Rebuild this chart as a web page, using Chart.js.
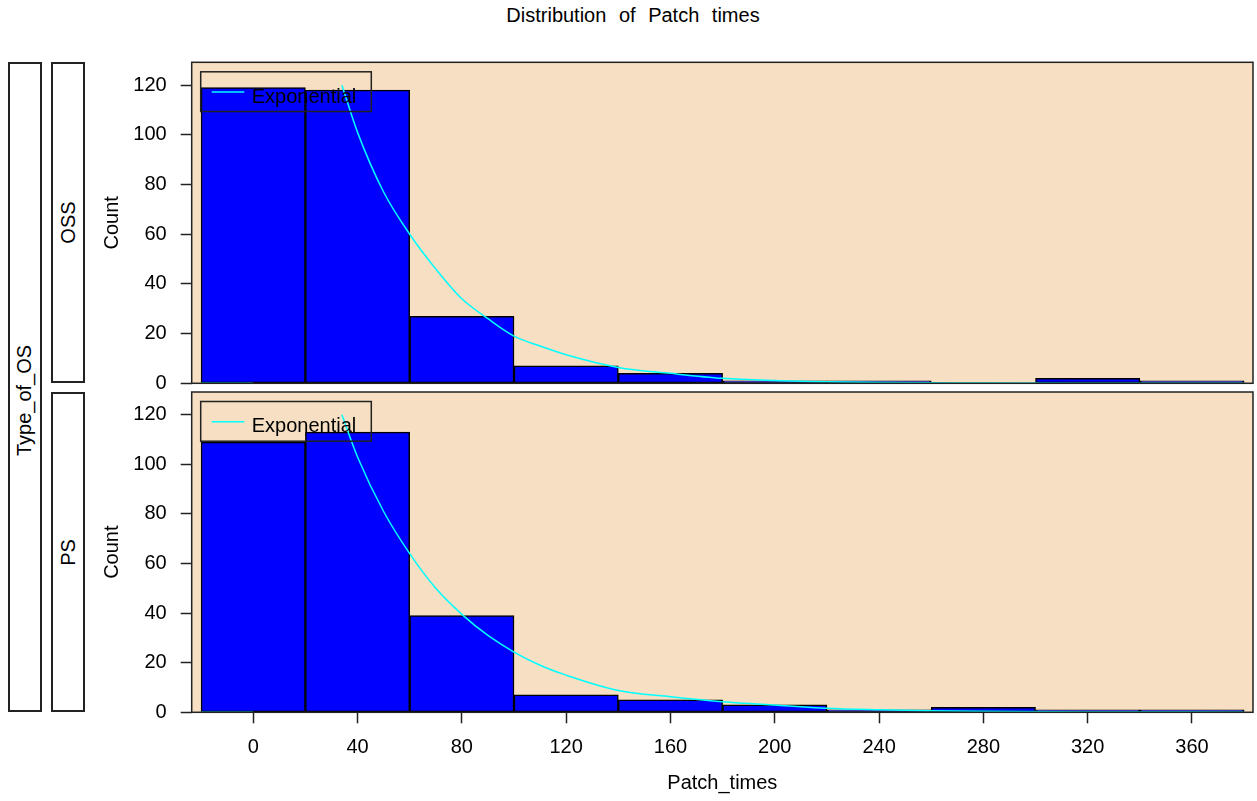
<!DOCTYPE html>
<html>
<head>
<meta charset="utf-8">
<script src="https://cdn.jsdelivr.net/npm/chart.js@4.4.1/dist/chart.umd.min.js"></script>
<style>
  body { margin: 0; background: #fff; width: 1257px; height: 801px; position: relative; overflow: hidden;
         font-family: "Liberation Sans", Arial, sans-serif; color: #000; }
  #title { position: absolute; left: 0; top: 4px; width: 1266px; text-align: center; font-size: 20px; word-spacing: 7px; }
  .strip { position: absolute; border: 2px solid #222; box-sizing: border-box;
           display: flex; align-items: center; justify-content: center; }
  .strip span { transform: rotate(-90deg); white-space: nowrap; font-size: 20px; }
  canvas { position: absolute; left: 0; }
</style>
</head>
<body>
<div id="title">Distribution of Patch times</div>
<div class="strip" style="left:8px;top:62px;width:34px;height:650px;padding-top:26px"><span>Type_of_OS</span></div>
<div class="strip" style="left:51px;top:62px;width:34px;height:321px"><span>OSS</span></div>
<div class="strip" style="left:51px;top:392px;width:34px;height:320px"><span>PS</span></div>
<canvas id="ossChart" width="1257" height="390" style="top:0"></canvas>
<canvas id="psChart" width="1257" height="411" style="top:390px"></canvas>
<script>
// ===============================
// DATA
// ===============================
const binMids = [0, 40, 80, 120, 160, 200, 240, 280, 320, 360];
const ossCounts = [119, 118, 27, 7, 4, 1, 1, 0, 2, 1];
const psCounts = [109, 113, 39, 7, 5, 3, 1, 2, 1, 1];

// fitted exponential curve, null = gap before the threshold
const curveX = [-20, 0, 17, 34, 40, 50, 60, 70, 80, 90, 100, 110, 120, 140, 160, 180, 200, 220, 240, 260, 280, 320, 380];
const ossCurve = [0, 0, null, 120, 101, 77, 60, 46, 34, 26, 19, 15, 11.5, 6.4, 4, 2, 1.1, 0.6, 0.3, 0.2, 0.1, 0.05, 0];
const psCurve = [0, 0, null, 120, 103, 81, 64, 50, 39.5, 31, 24.3, 19, 15, 8.8, 6.3, 4.3, 2.9, 1.6, 1, 0.6, 0.4, 0.15, 0.05];

const xTicks = [0, 40, 80, 120, 160, 200, 240, 280, 320, 360];
const yTicks = [0, 20, 40, 60, 80, 100, 120];

const FONT = '"Liberation Sans", Arial, sans-serif';
const BG = '#F6DFC2';

// plot background + frame
const framePlugin = {
    id: 'frame',
    beforeDraw(chart) {
        const { ctx, chartArea: a } = chart;
        ctx.save();
        ctx.fillStyle = BG;
        ctx.fillRect(a.left, a.top, a.right - a.left, a.bottom - a.top);
        ctx.restore();
    },
    afterDraw(chart) {
        const { ctx, chartArea: a } = chart;
        ctx.save();
        ctx.strokeStyle = '#222';
        ctx.lineWidth = 1.5;
        ctx.strokeRect(a.left, a.top, a.right - a.left, a.bottom - a.top);
        ctx.restore();
    }
};

// legend drawn as a box inside the plot, top-left
const boxLegend = {
    id: 'boxLegend',
    afterDatasetsDraw(chart) {
        const { ctx, chartArea: a } = chart;
        const ds = chart.data.datasets[1];
        const x = a.left + 9, y = a.top + 9.5;
        ctx.save();
        ctx.strokeStyle = '#222';
        ctx.lineWidth = 1.5;
        ctx.strokeRect(x, y, 170.6, 39.7);
        ctx.strokeStyle = ds.borderColor;
        ctx.beginPath();
        ctx.moveTo(x + 11, y + 20.3);
        ctx.lineTo(x + 43.6, y + 20.3);
        ctx.stroke();
        ctx.fillStyle = '#000';
        ctx.font = '20px ' + FONT;
        ctx.textBaseline = 'alphabetic';
        ctx.fillText(ds.label, x + 51, y + 30.7);
        ctx.restore();
    }
};

function noPad(s) {
    s.paddingTop = 0;
    s.paddingBottom = 0;
    s.paddingLeft = 0;
    s.paddingRight = 0;
}

function makePanel(id, counts, curve, showX) {
    const ctx = document.getElementById(id).getContext('2d');
    return new Chart(ctx, {
        type: 'bar',
        data: {
            datasets: [
                {
                    label: 'Count',
                    data: binMids.map((m, i) => ({ x: m, y: counts[i] })),
                    backgroundColor: '#0000FF',
                    borderColor: '#000',
                    borderWidth: 1.5,
                    borderSkipped: false,
                    barPercentage: 1,
                    categoryPercentage: 1,
                    order: 1
                },
                {
                    type: 'line',
                    label: 'Exponential',
                    data: curveX.map((v, i) => ({ x: v, y: curve[i] })),
                    borderColor: '#00FFFF',
                    borderWidth: 1.5,
                    pointRadius: 0,
                    fill: false,
                    spanGaps: false,
                    cubicInterpolationMode: 'monotone',
                    order: 0
                }
            ]
        },
        options: {
            responsive: false,
            animation: false,
            devicePixelRatio: 1,
            layout: {
                padding: showX
                    ? { left: 96, right: 4, top: 2, bottom: 0 }
                    : { left: 96, right: 4, top: 62.3, bottom: 6.7 }
            },
            plugins: { legend: { display: false }, tooltip: { enabled: false } },
            scales: {
                x: {
                    type: 'linear',
                    min: -23.6,
                    max: 383.4,
                    offset: false,
                    display: showX,
                    afterBuildTicks: s => { s.ticks = xTicks.map(v => ({ value: v })); },
                    afterFit: s => { s.height = showX ? 88.7 : 0; noPad(s); },
                    grid: { offset: false, drawOnChartArea: false, drawTicks: true, tickLength: 11, tickColor: '#222', tickWidth: 1.5 },
                    border: { display: false },
                    ticks: { color: '#000', padding: 12, font: { family: FONT, size: 20 } },
                    title: { display: true, text: 'Patch_times', color: '#000', padding: { top: 4, bottom: 6 }, font: { family: FONT, size: 20 } }
                },
                y: {
                    min: 0,
                    max: 129.2,
                    afterBuildTicks: s => { s.ticks = yTicks.map(v => ({ value: v })); },
                    afterFit: s => { s.width = 95.7; noPad(s); },
                    grid: { drawOnChartArea: false, drawTicks: true, tickLength: 11, tickColor: '#222', tickWidth: 1.5 },
                    border: { display: false },
                    ticks: { color: '#000', padding: 14, font: { family: FONT, size: 20 } },
                    title: { display: true, text: 'Count', color: '#000', padding: { top: 4, bottom: 4 }, font: { family: FONT, size: 20 } }
                }
            }
        },
        plugins: [framePlugin, boxLegend]
    });
}

makePanel('ossChart', ossCounts, ossCurve, false);
makePanel('psChart', psCounts, psCurve, true);
</script>
</body>
</html>
